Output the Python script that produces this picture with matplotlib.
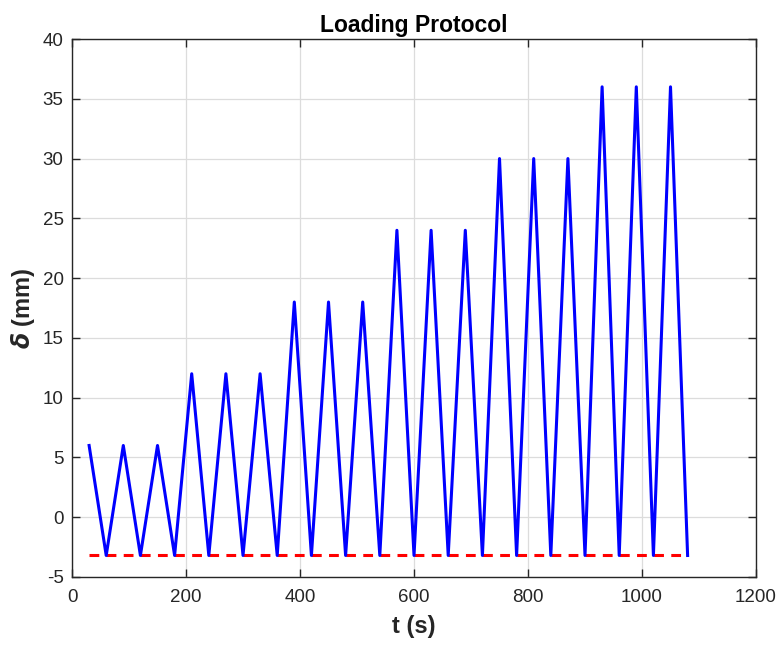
import numpy as np
import matplotlib
matplotlib.use('Agg')
import matplotlib.pyplot as plt

plt.rcParams['font.family'] = ['Liberation Sans', 'DejaVu Sans']
plt.rcParams['axes.unicode_minus'] = False

# Cycle peaks (three cycles per amplitude level) and the common trough
t_peaks = [30, 90, 150, 210, 270, 330, 390, 450, 510,
           570, 630, 690, 750, 810, 870, 930, 990, 1050]
amp_peaks = [6, 6, 6, 12, 12, 12, 18, 18, 18,
             24, 24, 24, 30, 30, 30, 36, 36, 36]
t_troughs = [60, 120, 180, 240, 300, 360, 420, 480, 540,
             600, 660, 720, 780, 840, 900, 960, 1020, 1080]
trough = -3.2

t = []
d = []
for tp, ap, tt in zip(t_peaks, amp_peaks, t_troughs):
    t += [tp, tt]
    d += [ap, trough]

fig = plt.figure(figsize=(7.81, 6.47), dpi=100)
ax = fig.add_axes([0.0922, 0.1082, 0.8758, 0.8315])

ax.plot(t, d, color='#0000ff', lw=2.2, zorder=3)
ax.plot([t_peaks[0], t_troughs[-1]], [trough, trough], color='#ff0000',
        lw=2.2, ls=(0, (3.2, 2.4)), zorder=2)

ax.set_xlim(0, 1200)
ax.set_ylim(-5, 40)
ax.set_xticks(np.arange(0, 1201, 200))
ax.set_yticks(np.arange(-5, 41, 5))
ax.grid(True, color='#dcdcdc', lw=0.9)
ax.set_axisbelow(True)
ax.tick_params(direction='in', top=True, right=True, labelsize=13.5,
               length=6, width=1.0, colors='#262626')
ax.tick_params(axis='x', pad=9)
ax.tick_params(axis='y', pad=6)
for s in ax.spines.values():
    s.set_linewidth(1.0)
    s.set_color('#262626')

ax.set_xlabel('t (s)', fontsize=17, fontweight='bold', color='#262626',
              labelpad=6)
ax.set_ylabel(r'$\boldsymbol{\delta}$ (mm)', fontsize=17, fontweight='bold',
              color='#262626', labelpad=4)
ax.set_title('Loading Protocol', fontsize=16.5, fontweight='bold', pad=5)

fig.savefig('out.png', dpi=100)
